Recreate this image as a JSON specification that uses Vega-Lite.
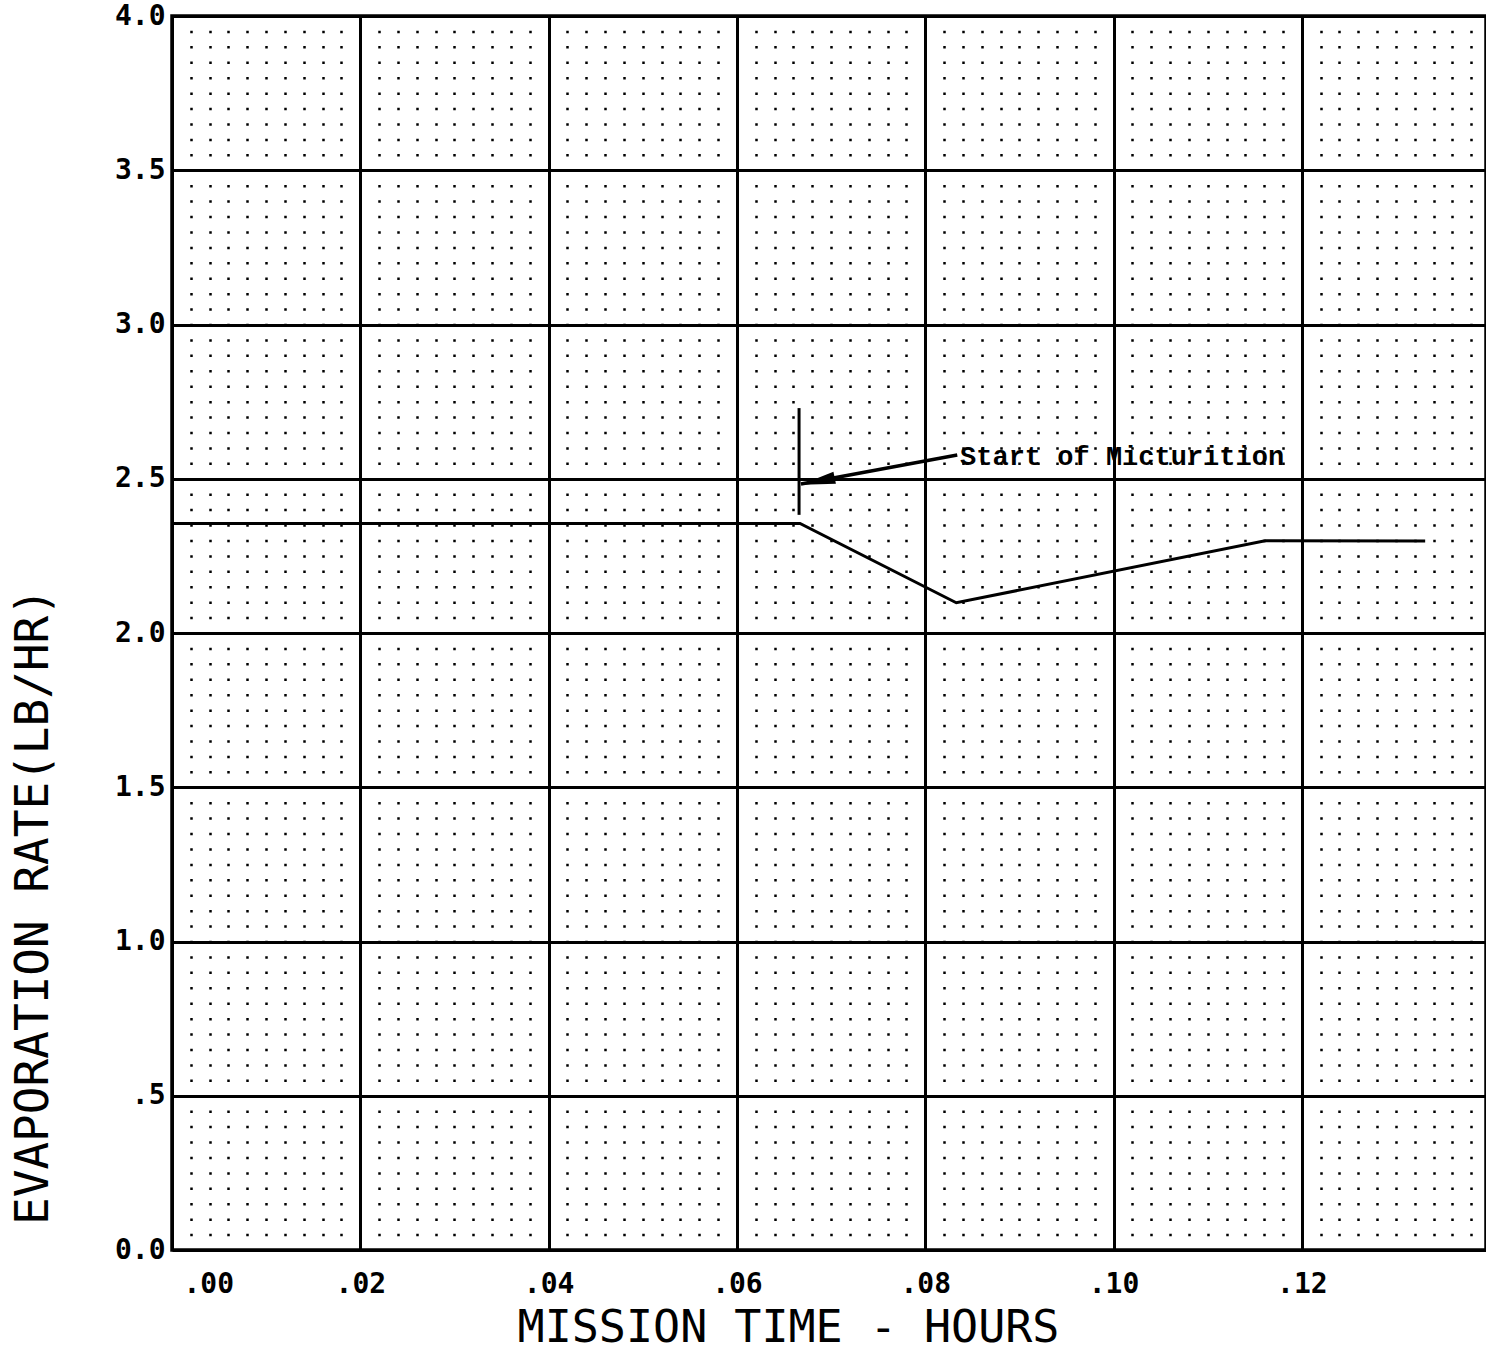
{
  "$schema": "https://vega.github.io/schema/vega-lite/v6.json",
  "width": 1314,
  "height": 1234,
  "autosize": "none",
  "padding": {"left": 172, "top": 16, "right": 0, "bottom": 101},
  "background": "white",
  "config": {
    "view": {"stroke": "black", "strokeWidth": 3.5},
    "axis": {"labelColor": "black", "titleColor": "black"}
  },
  "datasets": {
    "rate": [
      {"t": 0.0, "rate": 2.355},
      {"t": 0.0667, "rate": 2.355},
      {"t": 0.0833, "rate": 2.098},
      {"t": 0.1161, "rate": 2.299},
      {"t": 0.1331, "rate": 2.298}
    ],
    "marker": [{"t": 0.0666, "lo": 2.383, "hi": 2.729}],
    "arrow": [{"t1": 0.0834, "v1": 2.577, "t2": 0.0668, "v2": 2.483}],
    "head": [{"t": 0.06858, "v": 2.492}],
    "note": [{"t": 0.0837, "v": 2.545, "label": "Start of Micturition"}]
  },
  "layer": [
    {
      "data": {"name": "rate"},
      "mark": {"type": "line", "color": "black", "strokeWidth": 3},
      "encoding": {
        "x": {
          "field": "t", "type": "quantitative",
          "scale": {"domain": [0, 0.13956], "nice": false, "zero": false},
          "axis": {
            "values": [0, 0.002, 0.004, 0.006, 0.008, 0.01, 0.012, 0.014, 0.016, 0.018, 0.02, 0.022, 0.024, 0.026, 0.028, 0.03, 0.032, 0.034, 0.036, 0.038, 0.04, 0.042, 0.044, 0.046, 0.048, 0.05, 0.052, 0.054, 0.056, 0.058, 0.06, 0.062, 0.064, 0.066, 0.068, 0.07, 0.072, 0.074, 0.076, 0.078, 0.08, 0.082, 0.084, 0.086, 0.088, 0.09, 0.092, 0.094, 0.096, 0.098, 0.1, 0.102, 0.104, 0.106, 0.108, 0.11, 0.112, 0.114, 0.116, 0.118, 0.12, 0.122, 0.124, 0.126, 0.128, 0.13, 0.132, 0.134, 0.136, 0.138],
            "tickCount": 500,
            "labelExpr": "abs(datum.value*50 - round(datum.value*50)) < 0.001 ? substring(format(datum.value, '.2f'), 1) : ''",
            "grid": true,
            "gridColor": "black",
            "gridOpacity": 1,
            "gridWidth": {"condition": {"test": "abs(datum.value*50 - round(datum.value*50)) > 0.001", "value": 2.5}, "value": 3},
            "gridDash": {"condition": {"test": "abs(datum.value*50 - round(datum.value*50)) > 0.001", "value": [2.5, 12.925]}, "value": []},
            "gridDashOffset": 1.25,
            "domain": false,
            "ticks": false,
            "labelFont": "DejaVu Sans Mono",
            "labelFontWeight": "bold",
            "labelFontSize": 28,
            "labelPadding": 20,
            "labelFlush": true,
            "labelFlushOffset": -11,
            "labelOverlap": false,
            "title": "MISSION TIME - HOURS",
            "titleFont": "DejaVu Sans Mono",
            "titleFontWeight": "normal",
            "titleFontSize": 45,
            "titleX": 616,
            "titleY": 100,
            "titleAlign": "center",
            "titleBaseline": "bottom"
          }
        },
        "y": {
          "field": "rate", "type": "quantitative",
          "scale": {"domain": [0, 4], "nice": false, "zero": false},
          "axis": {
            "values": [0, 0.5, 1, 1.5, 2, 2.5, 3, 3.5, 4],
            "labelExpr": "datum.value == 0.5 ? '.5' : format(datum.value, '.1f')",
            "grid": true,
            "gridColor": "black",
            "gridOpacity": 1,
            "gridWidth": 3,
            "domain": false,
            "ticks": false,
            "labelFont": "DejaVu Sans Mono",
            "labelFontWeight": "bold",
            "labelFontSize": 28,
            "labelPadding": 7,
            "labelOverlap": false,
            "title": "EVAPORATION RATE(LB/HR)",
            "titleFont": "DejaVu Sans Mono",
            "titleFontWeight": "normal",
            "titleFontSize": 46,
            "titleAngle": 270,
            "titleX": -125,
            "titleY": 890,
            "titleAlign": "center",
            "titleBaseline": "alphabetic"
          }
        }
      }
    },
    {
      "data": {"name": "marker"},
      "mark": {"type": "rule", "color": "black", "strokeWidth": 3},
      "encoding": {
        "x": {"field": "t", "type": "quantitative"},
        "y": {"field": "lo", "type": "quantitative"},
        "y2": {"field": "hi"}
      }
    },
    {
      "data": {"name": "arrow"},
      "mark": {"type": "rule", "color": "black", "strokeWidth": 3.5},
      "encoding": {
        "x": {"field": "t1", "type": "quantitative"},
        "y": {"field": "v1", "type": "quantitative"},
        "x2": {"field": "t2"},
        "y2": {"field": "v2"}
      }
    },
    {
      "data": {"name": "head"},
      "mark": {"type": "point", "shape": "M -1 0 L 1 -0.36 L 1 0.36 Z", "filled": true, "color": "black", "opacity": 1, "size": 1200, "angle": 348.5},
      "encoding": {
        "x": {"field": "t", "type": "quantitative"},
        "y": {"field": "v", "type": "quantitative"}
      }
    },
    {
      "data": {"name": "note"},
      "mark": {"type": "text", "align": "left", "baseline": "alphabetic", "font": "Liberation Mono", "fontWeight": "bold", "fontSize": 27, "color": "black"},
      "encoding": {
        "x": {"field": "t", "type": "quantitative"},
        "y": {"field": "v", "type": "quantitative"},
        "text": {"field": "label"}
      }
    }
  ]
}
